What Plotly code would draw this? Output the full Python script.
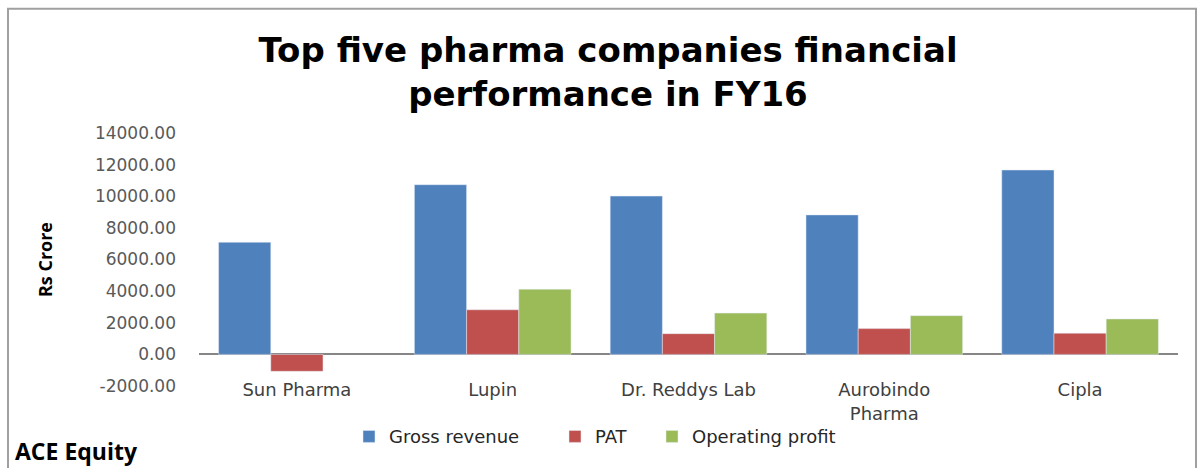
import plotly.graph_objects as go

categories = ["Sun Pharma", "Lupin", "Dr. Reddys Lab", "Aurobindo<br>Pharma", "Cipla"]
gross_revenue = [7090, 10730, 10010, 8820, 11660]
pat = [-1070, 2820, 1310, 1630, 1340]
operating_profit = [None, 4120, 2610, 2450, 2240]
y_ticks = [-2000, 0, 2000, 4000, 6000, 8000, 10000, 12000, 14000]
y_tick_labels = [f"{v:.2f}" for v in y_ticks]

W, H = 1201, 468
L, R = 199, 1178
T, B = 132.6, 386.2
ph = B - T
pw = R - L

fig = go.Figure()
fig.add_bar(x=categories, y=gross_revenue, name="Gross revenue", marker_color="#4F81BD", legend="legend")
fig.add_bar(x=categories, y=pat, name="PAT", marker_color="#C0504D", legend="legend2")
fig.add_bar(x=categories, y=operating_profit, name="Operating profit", marker_color="#9BBB59", legend="legend3")

legend_font = dict(family="DejaVu Sans", size=18, color="#262626")


def leg(px_left):
    return dict(
        orientation="h", x=(px_left - L) / pw, xanchor="left",
        y=(B - 437) / ph, yanchor="middle", font=legend_font,
        bgcolor="rgba(0,0,0,0)", itemclick=False, itemdoubleclick=False,
    )


fig.update_layout(
    width=W, height=H,
    margin=dict(l=L, r=W - R, t=T, b=H - B, pad=0),
    paper_bgcolor="white", plot_bgcolor="white",
    barmode="group", bargap=0.2, bargroupgap=0,
    font=dict(family="DejaVu Sans", color="#404040"),
    title=dict(
        text="Top five pharma companies financial<br>performance in FY16",
        x=608 / W, xanchor="center", xref="container",
        y=1 - 62 / H, yanchor="middle", yref="container",
        font=dict(family="DejaVu Sans", size=34, color="black", weight="bold"),
    ),
    showlegend=True,
    legend=leg(349),
    legend2=leg(555),
    legend3=leg(652),
    xaxis=dict(
        showline=False, showgrid=False, ticks="", anchor="free", position=0.035,
        tickfont=dict(family="DejaVu Sans", size=18, color="#404040"),
    ),
    yaxis=dict(
        range=[-2000, 14000], tickvals=y_ticks, ticktext=y_tick_labels,
        showgrid=False, showline=False, ticks="",
        zeroline=True, zerolinecolor="#868686", zerolinewidth=1.5,
        ticklabelstandoff=22,
        tickfont=dict(family="DejaVu Sans", size=17, color="#595959"),
    ),
    shapes=[
        dict(type="rect", xref="paper", yref="paper",
             x0=(8 - L) / pw, x1=(1196 - L) / pw,
             y0=(B - 520) / ph, y1=(B - 8) / ph,
             line=dict(color="#A0A0A0", width=2), fillcolor="rgba(0,0,0,0)",
             layer="below"),
    ],
    annotations=[
        dict(text="<b>Rs Crore</b>", textangle=-90, xref="paper", yref="paper",
             x=(45 - L) / pw, y=(B - 260) / ph, xanchor="center", yanchor="middle",
             showarrow=False, font=dict(family="Open Sans", size=18, color="black")),
        dict(text="<b>ACE Equity</b>", xref="paper", yref="paper",
             x=(13 - L) / pw, y=(B - 451) / ph, xanchor="left", yanchor="middle",
             showarrow=False, font=dict(family="Open Sans", size=23, color="black")),
    ],
)

fig.write_html("out.html", config={"displayModeBar": False},
               post_script="document.body.style.margin='0px';")
